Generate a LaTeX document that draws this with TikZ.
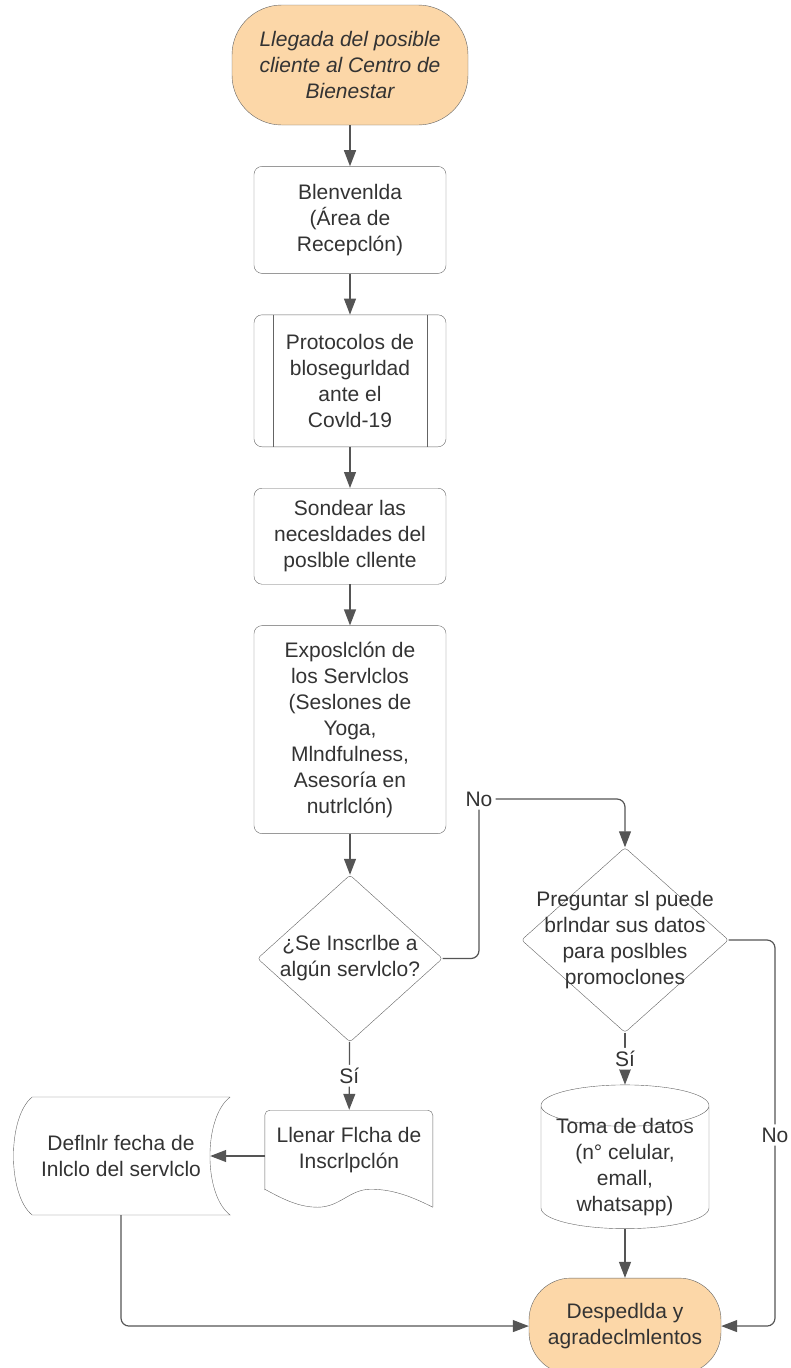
\documentclass[tikz,border=0pt]{standalone}
\usepackage{fontspec}
\setmainfont{Liberation Sans}
\usepackage{xcolor}
\usepackage{tikz}
\usetikzlibrary{positioning,arrows.meta,shapes.geometric,calc}

\definecolor{termfill}{RGB}{252,215,168}
\definecolor{edgegray}{RGB}{100,100,100}
\definecolor{linegray}{RGB}{85,85,85}
\definecolor{txtgray}{RGB}{51,51,51}

\begin{document}
\begin{tikzpicture}[
  x=1pt, y=-1pt,
  node distance=41pt,
  every node/.style={font=\fontsize{21pt}{26pt}\selectfont, text=txtgray},
  terminal/.style={draw=edgegray, fill=termfill, align=center, inner sep=0pt},
  proc/.style={draw=edgegray, rounded corners=8pt, align=center, minimum width=192pt, inner sep=0pt},
  decision/.style={diamond, draw=edgegray, rounded corners=3pt, align=center, inner sep=-30pt},
  store/.style={cylinder, shape border rotate=90, draw=edgegray, aspect=0.3, align=center, inner xsep=0pt, inner ysep=-8pt},
  plain/.style={align=center, inner sep=0pt},
  lbl/.style={fill=white, inner sep=3pt},
  conn/.style={draw=linegray, line width=1.2pt, rounded corners=8pt},
  arrow/.style={conn, -{Triangle[length=16pt,width=12pt]}}
]
\useasboundingbox (0,0) rectangle (790,1368);

% main column
\node[terminal, rounded corners=50pt, minimum width=236pt, minimum height=120pt] (inicio) at (350,65)
  {\itshape Llegada del posible\\\itshape cliente al Centro de\\\itshape Bienestar};
\node[proc, minimum height=107pt, below=of inicio] (bienvenida) {Blenvenlda\\(Área de\\Recepclón)};
\node[proc, minimum height=132pt, below=of bienvenida] (protocolos) {Protocolos de\\blosegurldad\\ante el\\Covld-19};
\node[proc, minimum height=96pt, below=of protocolos] (sondear) {Sondear las\\necesldades del\\poslble cllente};
\node[proc, minimum height=208pt, below=of sondear] (exposicion)
  {Exposlclón de\\los Servlclos\\(Seslones de\\Yoga,\\Mlndfulness,\\Asesoría en\\nutrlclón)};
\node[decision, minimum width=185pt, minimum height=167pt, below=of exposicion] (inscribe)
  {¿Se Inscrlbe a\\algún servlclo?};

% right branch
\node[decision, minimum width=207pt, minimum height=185pt] (datosq) at (625,940)
  {Preguntar sl puede\\brlndar sus datos\\para poslbles\\promoclones};
\node[store, minimum width=168pt, below=52pt of datosq] (datos)
  {Toma de datos\\(n° celular,\\emall,\\whatsapp)};
\node[terminal, rounded corners=42pt, minimum width=192pt, minimum height=96pt, below=49pt of datos] (despedida)
  {Despedlda y\\agradeclmlentos};

% bottom left
\node[plain, minimum width=168pt, minimum height=80pt] (ficha) at (349,1150) {Llenar Flcha de\\Inscrlpclón};
\node[plain, minimum width=178pt, minimum height=118pt] (fecha) at (121,1156) {Deflnlr fecha de\\Inlclo del servlclo};

% side bars of the predefined process
\draw[edgegray] ([xshift=19pt]protocolos.north west) -- ([xshift=19pt]protocolos.south west);
\draw[edgegray] ([xshift=-19pt]protocolos.north east) -- ([xshift=-19pt]protocolos.south east);

% document outline
\begin{scope}[shift={(ficha.south west)}]
  \draw[edgegray, rounded corners=5pt] (0,0) -- (0,-80) -- (168,-80) -- (168,17);
  \draw[edgegray] (0,-1) .. controls (20,10) and (35,17) .. (53,17)
    .. controls (75,17) and (85,-1) .. (106,-1)
    .. controls (130,-1) and (150,8) .. (168,17);
\end{scope}

% stored data outline
\begin{scope}[shift={(fecha.east)}]
  \draw[edgegray] (20,-59) -- (-178,-59) .. controls (-203,-39) and (-203,39) .. (-178,59)
    -- (20,59) .. controls (-7,39) and (-7,-39) .. (20,-59);
\end{scope}

% labels on connectors
\node[lbl] (no1) at (479,799) {No};
\node[lbl] (no2) at (775,1135) {No};

\draw[arrow] (inicio) -- (bienvenida);
\draw[arrow] (bienvenida) -- (protocolos);
\draw[arrow] (protocolos) -- (sondear);
\draw[arrow] (sondear) -- (exposicion);
\draw[arrow] (exposicion) -- (inscribe);
\draw[arrow] (inscribe) -- node[lbl] {Sí} (ficha);
\draw[conn] (inscribe.east) -| (no1);
\draw[arrow] (no1) -| (datosq);
\draw[arrow] (datosq) -- node[lbl] {Sí} (datos);
\draw[arrow] (datos) -- (despedida);
\draw[conn] (datosq.east) -| (no2);
\draw[arrow] (no2) |- (despedida.east);
\draw[arrow] (ficha.west |- fecha.east) -- (fecha.east);
\draw[arrow] (fecha.south) |- (despedida.west);
\end{tikzpicture}
\end{document}
